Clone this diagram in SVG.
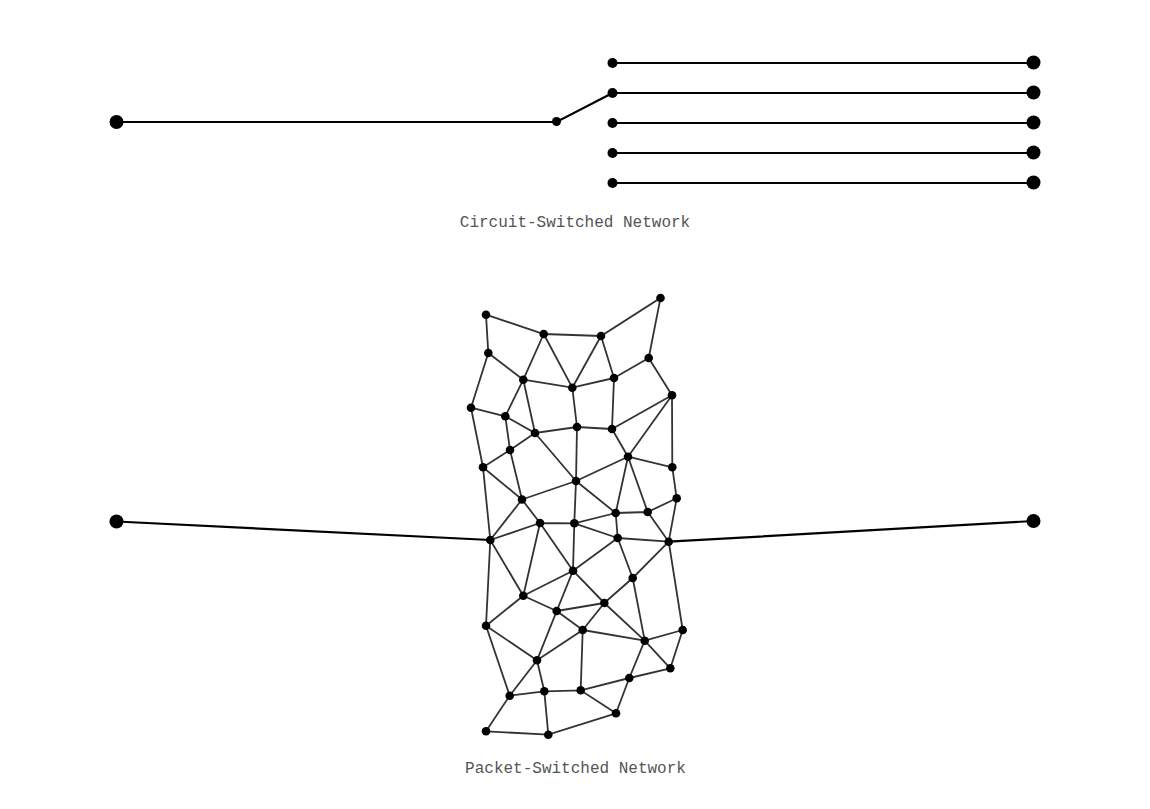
<svg xmlns="http://www.w3.org/2000/svg" width="1150" height="809" viewBox="0 0 1150 809">
<style>
.w{stroke:#000;stroke-width:2.2;fill:none}
.m{stroke:#333;stroke-width:1.8;fill:none}
.e{fill:#000}
.t{font-family:"Liberation Mono",monospace;font-size:16px;fill:#555;text-anchor:middle}
</style>
<rect width="1150" height="809" fill="#fff"/>
<g id="connectors">
<path class="w" d="M116.500 122H556.500L612.500 93M612.500 63H1033.500M612.500 93H1033.500M612.500 123H1033.500M612.500 153H1033.500M612.500 183H1033.500M116.500 521.500L490.300 540M668.700 541.700L1033.500 521"/>
<path class="m" d="M486 314.700L543.700 334L601 336L660.500 298L648.700 358M486 314.700L488.300 353L523.300 379.700M543.700 334L523.300 379.700M543.700 334L572.300 387.700M601 336L572.300 387.700M601 336L614 378M648.700 358L614 378M648.700 358L672 395.300M523.300 379.700L572.300 387.700L614 378M488.300 353L471 407.700M523.300 379.700L505.300 416.300M523.300 379.700L535 433M572.300 387.700L577 427M614 378L612 429M672 395.300L612 429M672 395.300L628 456.700M672 395.300L672.300 467.300M471 407.700L505.300 416.300L535 433L577 427L612 429M471 407.700L483 467.300M505.300 416.300L510 450M510 450L535 433M510 450L483 467.300M510 450L522 499.500M483 467.300L522 499.500M483 467.300L490.300 540M535 433L576 481M577 427L576 481M612 429L628 456.700M628 456.700L576 481M628 456.700L672.300 467.300M628 456.700L615.700 513M628 456.700L647.700 512M672.300 467.300L676.700 498.300M576 481L522 499.500M576 481L615.700 513M576 481L574.300 523.300M676.700 498.300L647.700 512M676.700 498.300L668.700 541.700M522 499.500L490.300 540M522 499.500L540 523M615.700 513L647.700 512M615.700 513L574.300 523.300M615.700 513L617.700 538M647.700 512L668.700 541.700M540 523L574.300 523.300M540 523L490.300 540M540 523L523.300 595.700M540 523L573 570.700M574.300 523.300L617.700 538M574.300 523.300L573 570.700M617.700 538L668.700 541.700M617.700 538L573 570.700M617.700 538L632.700 578M668.700 541.700L632.700 578M668.700 541.700L682.700 630M490.300 540L523.300 595.700M490.300 540L486 625.700M573 570.700L523.300 595.700M573 570.700L556.700 611M573 570.700L604.300 603M632.700 578L604.300 603M632.700 578L644.700 640.700M523.300 595.700L556.700 611M523.300 595.700L486 625.700M556.700 611L604.300 603M556.700 611L582.700 630M556.700 611L537 660.300M604.300 603L582.700 630M604.300 603L644.700 640.700M582.700 630L644.700 640.700M582.700 630L537 660.300M582.700 630L580.700 690.300M682.700 630L644.700 640.700M682.700 630L670.300 668.300M644.700 640.700L670.300 668.300M644.700 640.700L629.300 678M486 625.700L537 660.300M486 625.700L509.700 695.700M537 660.300L509.700 695.700M537 660.300L544.300 691.300M670.300 668.300L629.300 678L580.700 690.300M629.300 678L616 713.300M509.700 695.700L544.300 691.300L580.700 690.300L616 713.300M509.700 695.700L486 731.300M544.300 691.300L548.300 734.700M616 713.300L548.300 734.700L486 731.300"/>
</g>
<g id="circuit-nodes" class="e">
<circle id="c-src" cx="116.500" cy="122" r="7"/>
<circle id="c-switch" cx="556.500" cy="121.500" r="4.500"/>
<circle id="c-in1" cx="612.500" cy="63" r="5"/>
<circle id="c-in2" cx="612.500" cy="93" r="5"/>
<circle id="c-in3" cx="612.500" cy="123" r="5"/>
<circle id="c-in4" cx="612.500" cy="153" r="5"/>
<circle id="c-in5" cx="612.500" cy="183" r="5"/>
<circle id="c-out1" cx="1033.500" cy="62.500" r="7"/>
<circle id="c-out2" cx="1033.500" cy="92.500" r="7"/>
<circle id="c-out3" cx="1033.500" cy="122.500" r="7"/>
<circle id="c-out4" cx="1033.500" cy="152.500" r="7"/>
<circle id="c-out5" cx="1033.500" cy="182.500" r="7"/>
<circle id="p-src" cx="116.500" cy="521.500" r="7"/>
<circle id="p-dst" cx="1033.500" cy="521" r="7"/>
</g>
<g id="mesh-nodes" class="e">
<circle cx="486" cy="314.700" r="4.300"/><circle cx="543.700" cy="334" r="4.300"/><circle cx="601" cy="336" r="4.300"/><circle cx="660.500" cy="298" r="4.300"/>
<circle cx="488.300" cy="353" r="4.300"/><circle cx="648.700" cy="358" r="4.300"/><circle cx="523.300" cy="379.700" r="4.300"/><circle cx="572.300" cy="387.700" r="4.300"/>
<circle cx="614" cy="378" r="4.300"/><circle cx="672" cy="395.300" r="4.300"/><circle cx="471" cy="407.700" r="4.300"/><circle cx="505.300" cy="416.300" r="4.300"/>
<circle cx="535" cy="433" r="4.300"/><circle cx="577" cy="427" r="4.300"/><circle cx="612" cy="429" r="4.300"/><circle cx="510" cy="450" r="4.300"/>
<circle cx="628" cy="456.700" r="4.300"/><circle cx="483" cy="467.300" r="4.300"/><circle cx="672.300" cy="467.300" r="4.300"/><circle cx="576" cy="481" r="4.300"/>
<circle cx="522" cy="499.500" r="4.300"/><circle cx="676.700" cy="498.300" r="4.300"/><circle cx="615.700" cy="513" r="4.300"/><circle cx="647.700" cy="512" r="4.300"/>
<circle cx="540" cy="523" r="4.300"/><circle cx="574.300" cy="523.300" r="4.300"/><circle cx="490.300" cy="540" r="4.300"/><circle cx="617.700" cy="538" r="4.300"/>
<circle cx="668.700" cy="541.700" r="4.300"/><circle cx="573" cy="570.700" r="4.300"/><circle cx="632.700" cy="578" r="4.300"/><circle cx="523.300" cy="595.700" r="4.300"/>
<circle cx="604.300" cy="603" r="4.300"/><circle cx="556.700" cy="611" r="4.300"/><circle cx="582.700" cy="630" r="4.300"/><circle cx="682.700" cy="630" r="4.300"/>
<circle cx="486" cy="625.700" r="4.300"/><circle cx="644.700" cy="640.700" r="4.300"/><circle cx="537" cy="660.300" r="4.300"/><circle cx="670.300" cy="668.300" r="4.300"/>
<circle cx="629.300" cy="678" r="4.300"/><circle cx="509.700" cy="695.700" r="4.300"/><circle cx="544.300" cy="691.300" r="4.300"/><circle cx="580.700" cy="690.300" r="4.300"/>
<circle cx="616" cy="713.300" r="4.300"/><circle cx="486" cy="731.300" r="4.300"/><circle cx="548.300" cy="734.700" r="4.300"/>
</g>
<g id="labels">
<text class="t" x="575" y="227">Circuit-Switched Network</text>
<text class="t" x="575.500" y="773">Packet-Switched Network</text>
</g>
</svg>
